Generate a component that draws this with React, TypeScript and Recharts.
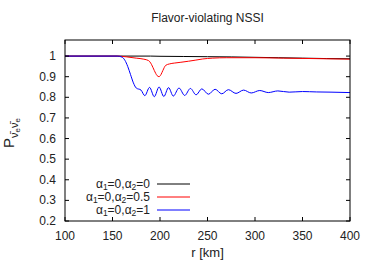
import { Line, LineChart, XAxis, YAxis } from "recharts";

const W = 374;
const H = 262;
const TOP = 40;
const BOTTOM = 221;
const LEFT = 65;
const RIGHT = 350;
const FONT = "'Liberation Sans', Arial, sans-serif";

const xTicks = [100, 150, 200, 250, 300, 350, 400];
const yTicks = [0.2, 0.3, 0.4, 0.5, 0.6, 0.7, 0.8, 0.9, 1];

const rBlack = [100, 190, 200, 225, 250, 275, 300, 325, 350, 375, 400];
const pBlack = [1, 1, 0.999, 0.998, 0.997, 0.996, 0.994, 0.992, 0.99, 0.988, 0.987];

const rRed = [100, 155, 165, 175, 183, 188, 191, 194, 197, 199, 201, 203, 206, 210, 215, 222, 230, 237, 245, 255, 270, 300, 330, 360, 400];
const pRed = [1, 1, 0.996, 0.99, 0.985, 0.978, 0.96, 0.93, 0.905, 0.9, 0.91, 0.93, 0.955, 0.962, 0.966, 0.97, 0.975, 0.98, 0.986, 0.99, 0.992, 0.992, 0.99, 0.988, 0.985];

const rBlue = [100, 155, 160, 163, 166, 169, 172, 175, 180, 184, 189, 194, 199, 204, 209, 214, 220, 226, 232, 238, 244, 251, 258, 265, 272, 280, 288, 296, 305, 314, 324, 336, 350, 365, 380, 400];
const pBlue = [1, 1, 0.995, 0.98, 0.95, 0.91, 0.87, 0.845, 0.835, 0.808, 0.848, 0.803, 0.85, 0.804, 0.847, 0.806, 0.845, 0.809, 0.843, 0.812, 0.841, 0.815, 0.839, 0.817, 0.837, 0.819, 0.835, 0.821, 0.833, 0.823, 0.831, 0.825, 0.828, 0.826, 0.825, 0.823];

const zip = (r: number[], p: number[]) => r.map((v, i) => ({ r: v, p: p[i] }));

const series = [
  { name: "0", color: "#000000", data: zip(rBlack, pBlack) },
  { name: "0.5", color: "#ff0000", data: zip(rRed, pRed) },
  { name: "1", color: "#0000ff", data: zip(rBlue, pBlue) },
];

function XTick({ x, payload }: any) {
  return (
    <g>
      <line x1={x} x2={x} y1={BOTTOM} y2={BOTTOM - 4} stroke="#000" />
      <line x1={x} x2={x} y1={TOP} y2={TOP + 4} stroke="#000" />
      <text x={x} y={BOTTOM + 19} textAnchor="middle" fontSize={12} fill="#222" fontFamily={FONT}>
        {payload.value}
      </text>
    </g>
  );
}

function YTick({ y, payload }: any) {
  return (
    <g>
      <line x1={LEFT} x2={LEFT + 4} y1={y} y2={y} stroke="#000" />
      <line x1={RIGHT} x2={RIGHT - 4} y1={y} y2={y} stroke="#000" />
      <text x={LEFT - 9} y={y + 4} textAnchor="end" fontSize={12} fill="#222" fontFamily={FONT}>
        {payload.value}
      </text>
    </g>
  );
}

function LegendRow({ y, label, color }: { y: number; label: string; color: string }) {
  return (
    <g>
      <text x={150} y={y + 4} textAnchor="end" fontSize={12} fill="#222" fontFamily={FONT}>
        α<tspan dy={1.5} fontSize={8.5}>1</tspan>
        <tspan dy={-1.5}>=0,α</tspan>
        <tspan dy={1.5} fontSize={8.5}>2</tspan>
        <tspan dy={-1.5}>={label}</tspan>
      </text>
      <line x1={157} x2={190} y1={y} y2={y} stroke={color} strokeWidth={1} />
    </g>
  );
}

export default function App() {
  return (
    <div style={{ position: "absolute", left: 0, top: 0, width: W, height: H, background: "#fff" }}>
      <LineChart
        width={W}
        height={H}
        margin={{ top: TOP, right: W - RIGHT, bottom: H - BOTTOM - 30, left: LEFT - 60 }}
        style={{ fontFamily: FONT }}
      >
        <XAxis
          dataKey="r"
          type="number"
          domain={[100, 400]}
          ticks={xTicks}
          interval={0}
          height={30}
          tickLine={false}
          axisLine={false}
          tickSize={0}
          tick={<XTick />}
          allowDataOverflow
        />
        <YAxis
          type="number"
          domain={[0.2, 1.078]}
          ticks={yTicks}
          interval={0}
          width={60}
          tickLine={false}
          axisLine={false}
          tickSize={0}
          tick={<YTick />}
          allowDataOverflow
        />
        {series.map((s) => (
          <Line
            key={s.name}
            data={s.data}
            dataKey="p"
            type="monotone"
            stroke={s.color}
            strokeWidth={1}
            dot={false}
            isAnimationActive={false}
          />
        ))}
      </LineChart>
      <svg width={W} height={H} style={{ position: "absolute", left: 0, top: 0, pointerEvents: "none" }}>
        <rect x={LEFT} y={TOP} width={RIGHT - LEFT} height={BOTTOM - TOP} fill="none" stroke="#000" strokeWidth={1} />
        <text x={(LEFT + RIGHT) / 2} y={22} textAnchor="middle" fontSize={12} fill="#222" fontFamily={FONT}>
          Flavor-violating NSSI
        </text>
        <text x={(LEFT + RIGHT) / 2} y={257} textAnchor="middle" fontSize={13} fill="#222" fontFamily={FONT}>
          r [km]
        </text>
        <text transform="translate(14,148) rotate(-90)" fontSize={15} fill="#222" fontFamily={FONT}>
          P
          <tspan dy={4} fontSize={11}>{"\u03BD\u0304"}</tspan>
          <tspan dy={2} fontSize={8}>e</tspan>
          <tspan dy={-2} fontSize={11}>{"\u03BD\u0304"}</tspan>
          <tspan dy={2} fontSize={8}>e</tspan>
        </text>
        {series.map((s, i) => (
          <LegendRow key={s.name} y={184 + i * 13} label={s.name} color={s.color} />
        ))}
      </svg>
    </div>
  );
}
